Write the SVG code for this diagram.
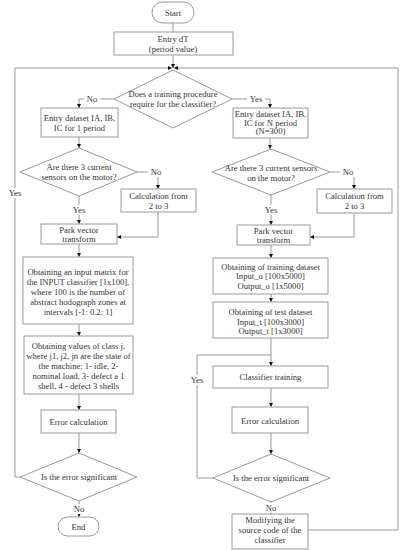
<svg xmlns="http://www.w3.org/2000/svg" width="405" height="550" viewBox="0 0 405 550">
<defs>
<marker id="ah" viewBox="0 0 6 6" refX="6" refY="3" markerWidth="4" markerHeight="4" orient="auto" markerUnits="userSpaceOnUse">
<path d="M0,0 L6,3 L0,6 Z" fill="#111"/>
</marker>
</defs>
<style>
.box{fill:#fff;stroke:#999;stroke-width:1}
.ln{fill:none;stroke:#999;stroke-width:1}
.ar{marker-end:url(#ah)}
text{font-family:"Liberation Serif","Times New Roman",serif;font-size:8.6px;fill:#333;text-anchor:middle;dominant-baseline:central}
.lb{fill:#fff}
</style>
<rect width="405" height="550" fill="#fff"/>

<g id="connectors">
<path class="ln ar" d="M173,23 V68"/>
<path class="ln ar" d="M15,68 H172"/>
<path class="ln ar" d="M398,68 H174"/>
<path class="ln ar" d="M114,99 H79 V108"/>
<path class="ln ar" d="M232,99 H270 V108"/>
<path class="ln ar" d="M79,137 V148"/>
<path class="ln ar" d="M270,138 V149"/>
<path class="ln ar" d="M137,172 H158 V189"/>
<path class="ln ar" d="M79,196 V224"/>
<path class="ln ar" d="M158,212 V237 H117"/>
<path class="ln ar" d="M79,244 V257"/>
<path class="ln ar" d="M79,324 V336"/>
<path class="ln ar" d="M79,394 V410"/>
<path class="ln ar" d="M79,433 V453"/>
<path class="ln ar" d="M79,501 V517"/>
<path class="ln" d="M20,477 H15 V68"/>
<path class="ln ar" d="M330,172 H354 V189"/>
<path class="ln ar" d="M271,195 V225"/>
<path class="ln ar" d="M354,213 V237 H310"/>
<path class="ln ar" d="M271,245 V258"/>
<path class="ln ar" d="M271,294 V302"/>
<path class="ln ar" d="M271,338 V366"/>
<path class="ln" d="M213,478 H197 V355 H271"/>
<path class="ln ar" d="M271,388 V407"/>
<path class="ln ar" d="M271,433 V454"/>
<path class="ln ar" d="M271,502 V514"/>
<path class="ln" d="M308,530 H398 V68"/>
<rect class="lb" x="84" y="94" width="16" height="10"/>
<text x="92" y="99">No</text>
<rect class="lb" x="247" y="94" width="18" height="10"/>
<text x="256" y="99">Yes</text>
<rect class="lb" x="148" y="167" width="16" height="10"/>
<text x="156" y="172">No</text>
<rect class="lb" x="71" y="205" width="17" height="10"/>
<text x="79" y="210">Yes</text>
<rect class="lb" x="5" y="188" width="20" height="10"/>
<text x="15" y="193">Yes</text>
<rect class="lb" x="71" y="504" width="16" height="10"/>
<text x="79" y="509">No</text>
<rect class="lb" x="340" y="167" width="16" height="10"/>
<text x="348" y="172">No</text>
<rect class="lb" x="263" y="205" width="17" height="10"/>
<text x="271" y="210">Yes</text>
<rect class="lb" x="187" y="375" width="20" height="10"/>
<text x="197" y="380">Yes</text>
<rect class="lb" x="263" y="503" width="16" height="10"/>
<text x="271" y="508">No</text>
</g>

<g id="start">
<rect class="box" x="152" y="2" width="42" height="21" rx="10.5"/>
<text x="173" y="12.5">Start</text>
</g>
<g id="entry-dt">
<rect class="box" x="114" y="32" width="119" height="23"/>
<text x="173" y="38.5">Entry dT</text>
<text x="173" y="48.5">(period value)</text>
</g>
<g id="decision-training">
<path class="box" d="M173,70 L232,99 L173,128 L114,99 Z"/>
<text x="173" y="94">Does a training procedure</text>
<text x="173" y="104">require for the classifier?</text>
</g>

<g id="left-entry">
<rect class="box" x="41" y="108" width="77" height="29"/>
<text x="79.5" y="117.5">Entry dataset IA, IB,</text>
<text x="79.5" y="127.5">IC for 1 period</text>
</g>
<g id="left-sensors">
<path class="box" d="M79,148 L137,172 L79,196 L20,172 Z"/>
<text x="79" y="167">Are there 3 current</text>
<text x="79" y="177">sensors on the motor?</text>
</g>
<g id="left-calc">
<rect class="box" x="121" y="189" width="75" height="23"/>
<text x="158.5" y="195.5">Calculation from</text>
<text x="158.5" y="205.5">2 to 3</text>
</g>
<g id="left-park">
<rect class="box" x="41" y="224" width="76" height="20"/>
<text x="79" y="229.5">Park vector</text>
<text x="79" y="239">transform</text>
</g>
<g id="left-matrix">
<rect class="box" x="23" y="257" width="110" height="67"/>
<text x="78" y="272">Obtaining an input matrix for</text>
<text x="78" y="282">the INPUT classifier [1x100],</text>
<text x="78" y="292">where 100 is the number of</text>
<text x="78" y="302">abstract hodograph zones at</text>
<text x="78" y="311.5">intervals [-1: 0.2: 1]</text>
</g>
<g id="left-class">
<rect class="box" x="24" y="336" width="109" height="58"/>
<text x="78.5" y="346">Obtaining values of class j,</text>
<text x="78.5" y="356">where j1, j2, jn are the state of</text>
<text x="78.5" y="366">the machine: 1- idle, 2-</text>
<text x="78.5" y="376">nominal load, 3- defect a 1</text>
<text x="78.5" y="385.5">shell, 4 - defect 3 shells</text>
</g>
<g id="left-error">
<rect class="box" x="41" y="410" width="75" height="23"/>
<text x="78.5" y="421.5">Error calculation</text>
</g>
<g id="left-significant">
<path class="box" d="M79,453 L137,477 L79,501 L20,477 Z"/>
<text x="79" y="477">Is the error significant</text>
</g>
<g id="end">
<rect class="box" x="58" y="517" width="41" height="19" rx="9.5"/>
<text x="78.5" y="526.5">End</text>
</g>

<g id="right-entry">
<rect class="box" x="233" y="108" width="75" height="30"/>
<text x="270.5" y="114">Entry dataset IA, IB,</text>
<text x="270.5" y="122.5">IC for N period</text>
<text x="270.5" y="131">(N=300)</text>
</g>
<g id="right-sensors">
<path class="box" d="M271,149 L330,172 L271,195 L212,172 Z"/>
<text x="271" y="168">Are there 3 current sensors</text>
<text x="271" y="178">on the motor?</text>
</g>
<g id="right-calc">
<rect class="box" x="317" y="189" width="75" height="24"/>
<text x="354.5" y="196">Calculation from</text>
<text x="354.5" y="206">2 to 3</text>
</g>
<g id="right-park">
<rect class="box" x="237" y="225" width="73" height="20"/>
<text x="273.5" y="230.5">Park vector</text>
<text x="273.5" y="240">transform</text>
</g>
<g id="right-training-dataset">
<rect class="box" x="213" y="258" width="115" height="36"/>
<text x="270.5" y="266.5">Obtaining of training dataset</text>
<text x="270.5" y="276">Input_o [100x5000]</text>
<text x="270.5" y="285.5">Output_o [1x5000]</text>
</g>
<g id="right-test-dataset">
<rect class="box" x="213" y="302" width="115" height="36"/>
<text x="270.5" y="311.5">Obtaining of test dataset</text>
<text x="270.5" y="321.5">Input_t [100x3000]</text>
<text x="270.5" y="331">Output_t [1x3000]</text>
</g>
<g id="right-classifier-training">
<rect class="box" x="213" y="366" width="115" height="22"/>
<text x="270.5" y="377">Classifier training</text>
</g>
<g id="right-error">
<rect class="box" x="232" y="407" width="76" height="26"/>
<text x="270" y="420.5">Error calculation</text>
</g>
<g id="right-significant">
<path class="box" d="M271,454 L330,478 L271,502 L213,478 Z"/>
<text x="271" y="478">Is the error significant</text>
</g>
<g id="right-modify">
<rect class="box" x="232" y="514" width="76" height="35"/>
<text x="270" y="520">Modifying the</text>
<text x="270" y="530">source code of the</text>
<text x="270" y="539.5">classifier</text>
</g>
</svg>
